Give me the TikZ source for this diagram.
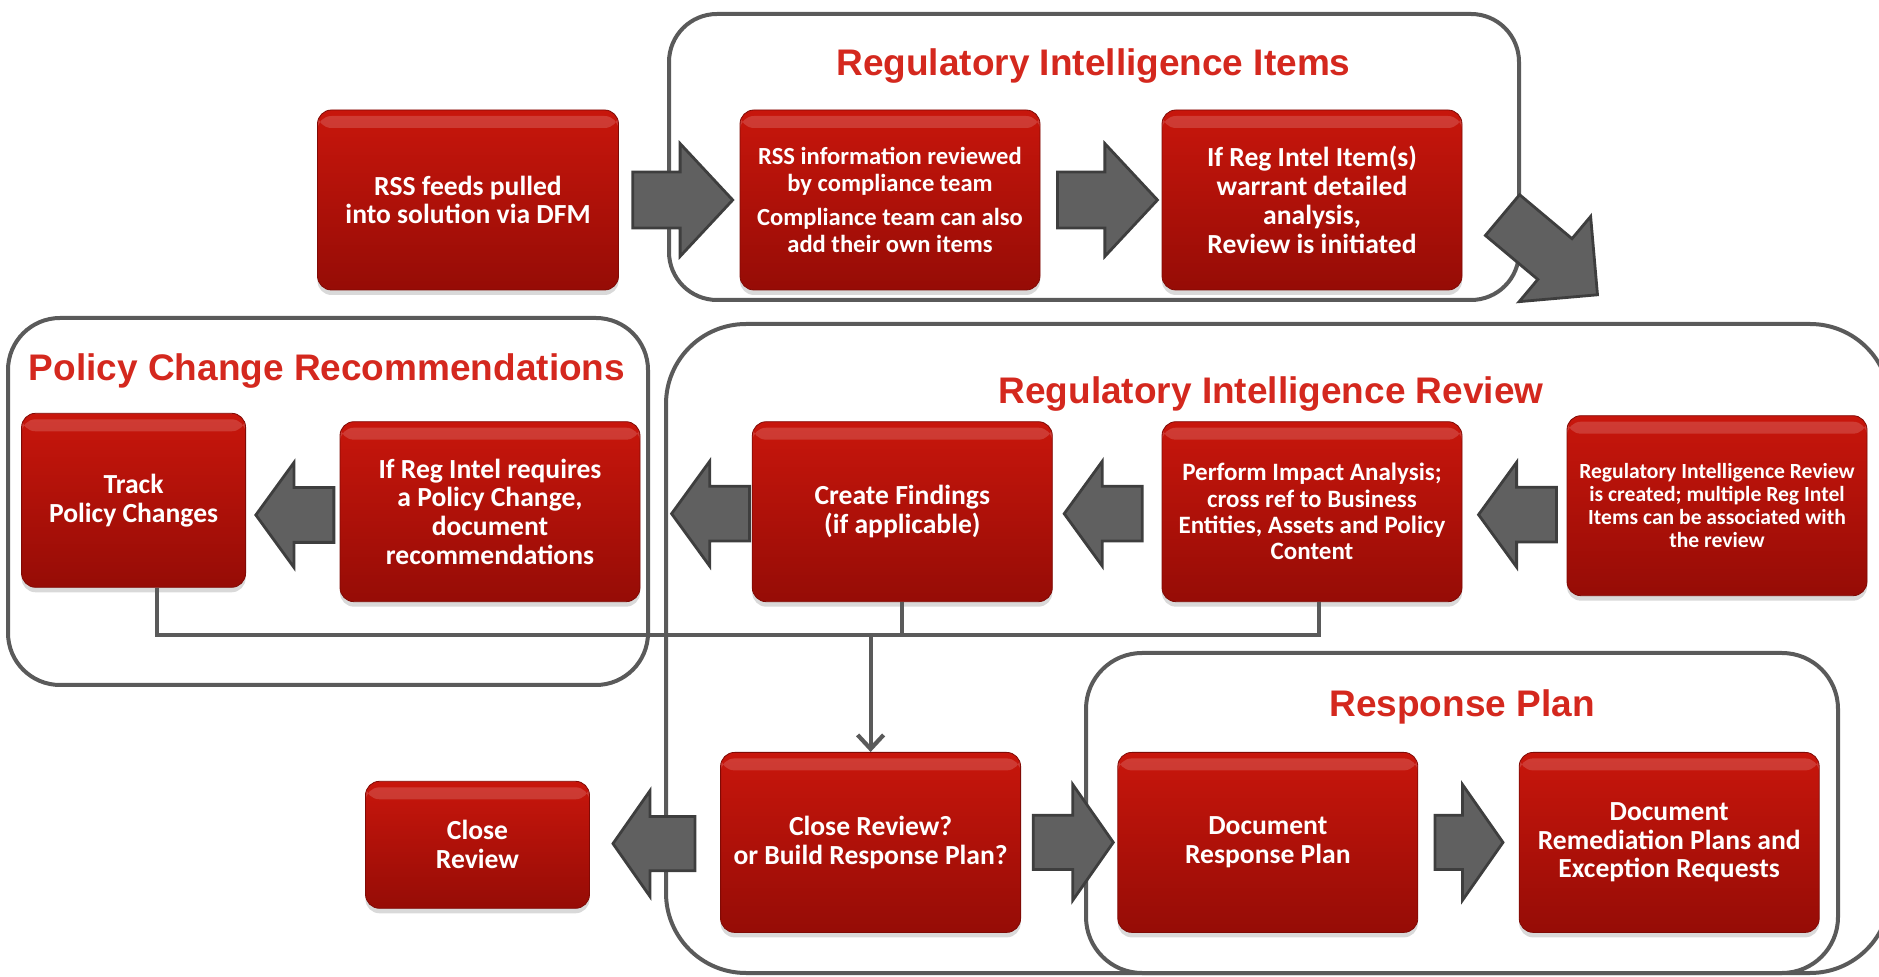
\documentclass[tikz,border=0pt]{standalone}
\usepackage{fontspec}
\setmainfont{Carlito}
\newfontfamily\titlefont{Liberation Sans}
\usetikzlibrary{shapes.arrows,shadows,calc,arrows.meta}

\definecolor{boxtop}{RGB}{200,22,12}
\definecolor{boxbot}{RGB}{150,12,6}
\definecolor{titlered}{RGB}{212,40,30}
\definecolor{framegrey}{RGB}{90,90,90}
\definecolor{arrowfill}{RGB}{96,96,96}
\definecolor{arrowline}{RGB}{62,62,62}

\tikzset{
  redbox/.style={rectangle, rounded corners=7pt, top color=boxtop, bottom color=boxbot,
    draw=boxbot!85!black, line width=0.4pt, text=white, align=center,
    font=\bfseries\fontsize{13.8}{14.4}\selectfont,
    minimum width=150pt, minimum height=90pt, inner sep=2pt,
    drop shadow={opacity=0.3,shadow xshift=0pt,shadow yshift=-2.5pt},
    path picture={\fill[white,opacity=0.16] ([yshift=-3pt]path picture bounding box.north west)
      rectangle ([yshift=-9pt]path picture bounding box.north east);}},
  frame/.style={draw=framegrey, line width=2pt},
  title/.style={text=titlered, font=\titlefont\bfseries\fontsize{18.5}{22}\selectfont,
    anchor=base, inner sep=0pt},
  link/.style={draw=framegrey, line width=2.1pt},
  blockarr/.style={single arrow, draw=arrowline, fill=arrowfill, line width=1.4pt,
    inner xsep=0pt, inner ysep=13.3pt,
    minimum height=50pt, minimum width=55pt, single arrow head extend=14.2pt,
    single arrow tip angle=94},
  leftarr/.style={blockarr, shape border rotate=180, minimum height=39pt, minimum width=51pt,
    inner ysep=13pt, single arrow head extend=12.5pt, single arrow tip angle=108},
  lowarr/.style={blockarr, minimum height=40pt, minimum width=56.6pt, inner ysep=12.85pt,
    single arrow head extend=15.4pt, single arrow tip angle=110}
}

\begin{document}
\begin{tikzpicture}[x=0.5pt,y=-0.5pt]
\useasboundingbox (0,0) rectangle (1879,977);

% grey frames
\draw[frame, rounded corners=24pt] (669,14) rectangle (1519,300);
\draw[frame, rounded corners=26pt] (8,318) rectangle (648,685);
\draw[frame, rounded corners=40pt] (666,324) rectangle (1890,973);
\draw[frame, rounded corners=28pt] (1086,653) rectangle (1838,973);

% frame titles
\node[title] (riititle) at (1093.5,75.5) {Regulatory Intelligence Items};
\node[title] (pcrtitle) at (327,381) {Policy Change Recommendations};
\node[title] (rirtitle) at (1271,404) {Regulatory Intelligence Review};
\node[title] (rptitle) at (1462,716.6) {Response Plan};

% top row
\node[redbox, minimum width=150.5pt] (rss) at (468,200) {RSS feeds pulled\\into solution via DFM};
\node[redbox, font=\bfseries\fontsize{12.3}{13.2}\selectfont] (rssinfo) at (890,200)
  {RSS information reviewed\\by compliance team\\[4pt]Compliance team can also\\add their own items};
\node[redbox] (item) at (1312,200) {If Reg Intel Item(s)\\warrant detailed\\analysis,\\Review is initiated};

% middle row
\node[redbox, minimum width=112pt, minimum height=87pt] (track) at (133.6,500.3) {Track\\Policy Changes};
\node[redbox] (polrec) at (490,511.7) {If Reg Intel requires\\a Policy Change,\\document\\recommendations};
\node[redbox] (findings) at (902.3,511.7) {Create Findings\\(if applicable)};
\node[redbox, font=\bfseries\fontsize{12.5}{13.2}\selectfont] (impact) at (1312,511.7)
  {Perform Impact Analysis;\\cross ref to Business\\Entities, Assets and Policy\\Content};
\node[redbox, font=\bfseries\fontsize{10.8}{11.5}\selectfont] (created) at (1717,505.7)
  {Regulatory Intelligence Review\\is created; multiple Reg Intel\\Items can be associated with\\the review};

% bottom row
\node[redbox, minimum width=112pt, minimum height=63.5pt] (close) at (477.5,844.8) {Close\\Review};
\node[redbox] (decide) at (870.6,842.4) {Close Review?\\or Build Response Plan?};
\node[redbox] (docplan) at (1267.8,842.4) {Document\\Response Plan};
\node[redbox] (remed) at (1669.2,842.4) {Document\\Remediation Plans and\\Exception Requests};

% block arrows
\node[blockarr, xshift=-4.8pt] (a1) at ($(rss.east)!.5!(rssinfo.west)$) {};
\node[blockarr, xshift=-3.3pt] (a2) at ($(rssinfo.east)!.5!(item.west)$) {};
\node[blockarr, minimum height=62pt, minimum width=55pt, inner ysep=12.6pt,
  single arrow head extend=14.5pt, single arrow tip angle=90, rotate=-40]
  (a3) at ([xshift=38.7pt,yshift=22pt]item.south east) {};
\node[leftarr, xshift=6pt, yshift=-4.5pt] (b1) at ($(track.east)!.5!(polrec.west)$) {};
\node[leftarr, xshift=12.2pt, yshift=-1pt] (b2) at ($(polrec.east)!.5!(findings.west)$) {};
\node[leftarr, xshift=3pt, yshift=-1pt] (b3) at ($(findings.east)!.5!(impact.west)$) {};
\node[leftarr, xshift=6.5pt, yshift=-3pt] (b4) at ($(impact.east)!.5!(created.west)$) {};
\node[lowarr, shape border rotate=180, minimum height=41pt, minimum width=51.6pt,
  single arrow head extend=12.85pt, xshift=4.2pt] (c1) at ($(close.east)!.5!(decide.west)$) {};
\node[lowarr, xshift=-2.7pt] (c2) at ($(decide.east)!.5!(docplan.west)$) {};
\node[lowarr, minimum height=34pt, xshift=-4.5pt] (c3) at ($(docplan.east)!.5!(remed.west)$) {};

% links to the decision
\coordinate (bus) at (0,635);
\coordinate (trk) at ([xshift=11.5pt]track.south);
\coordinate (imp) at ([xshift=3.5pt]impact.south);
\draw[link] (trk) |- (bus -| imp) -- (imp);
\draw[link] (findings.south) -- (findings.south |- bus);
\draw[link, -{Straight Barb[length=7pt,width=13pt]}] (decide.north |- bus) -- (decide.north);
\end{tikzpicture}
\end{document}
